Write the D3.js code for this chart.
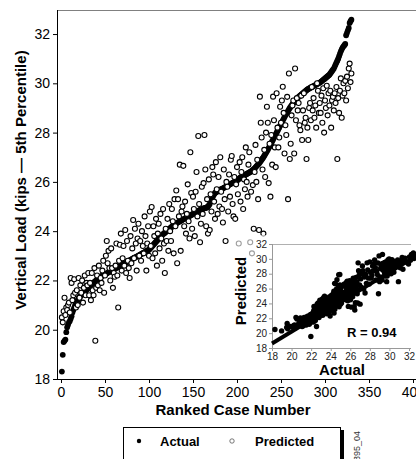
<!DOCTYPE html>
<html><head><meta charset="utf-8">
<script src="https://cdn.jsdelivr.net/npm/d3@7"></script>
<style>
html,body{margin:0;padding:0;background:#fff;}
svg{display:block;font-family:"Liberation Sans",Arial,sans-serif;}
</style></head>
<body><svg id="c" width="416" height="459"></svg>
<script>
// Actual vertical load, sorted by rank (kips)
const actual = [
18.30,18.98,19.50,19.55,19.60,19.90,20.10,20.20,20.30,20.35,
20.45,20.55,20.70,20.80,20.90,21.00,21.08,21.15,21.20,21.28,
21.32,21.36,21.40,21.45,21.50,21.53,21.56,21.59,21.62,21.65,
21.69,21.73,21.77,21.81,21.85,21.88,21.91,21.94,21.97,22.00,
22.03,22.06,22.09,22.12,22.15,22.17,22.19,22.21,22.23,22.25,
22.27,22.29,22.31,22.33,22.35,22.37,22.39,22.41,22.43,22.45,
22.47,22.49,22.51,22.53,22.55,22.57,22.59,22.61,22.63,22.65,
22.67,22.69,22.71,22.73,22.75,22.77,22.79,22.81,22.83,22.85,
22.87,22.89,22.91,22.93,22.95,22.97,22.99,23.01,23.03,23.05,
23.07,23.09,23.11,23.13,23.15,23.17,23.19,23.21,23.23,23.25,
23.29,23.33,23.37,23.41,23.45,23.49,23.53,23.57,23.61,23.65,
23.69,23.73,23.77,23.81,23.85,23.88,23.91,23.94,23.97,24.00,
24.03,24.06,24.09,24.12,24.15,24.18,24.21,24.24,24.27,24.30,
24.32,24.34,24.36,24.38,24.40,24.42,24.44,24.46,24.48,24.50,
24.52,24.54,24.56,24.58,24.60,24.62,24.64,24.66,24.68,24.70,
24.72,24.74,24.76,24.78,24.80,24.82,24.84,24.86,24.88,24.90,
24.91,24.92,24.93,24.94,24.95,24.97,25.00,25.05,25.10,25.20,
25.28,25.36,25.44,25.50,25.55,25.58,25.60,25.62,25.64,25.66,
25.68,25.70,25.72,25.74,25.76,25.78,25.80,25.82,25.84,25.86,
25.88,25.90,25.92,25.94,25.96,25.98,26.00,26.02,26.04,26.06,
26.09,26.12,26.15,26.18,26.20,26.22,26.24,26.26,26.28,26.30,
26.32,26.34,26.36,26.38,26.40,26.43,26.46,26.49,26.52,26.55,
26.59,26.63,26.67,26.71,26.75,26.80,26.85,26.90,26.95,27.00,
27.06,27.12,27.18,27.24,27.30,27.37,27.44,27.51,27.58,27.65,
27.72,27.79,27.86,27.93,28.00,28.07,28.14,28.21,28.28,28.35,
28.42,28.49,28.56,28.63,28.70,28.76,28.82,28.88,28.94,29.00,
29.05,29.10,29.15,29.20,29.25,29.29,29.33,29.37,29.41,29.45,
29.48,29.51,29.54,29.57,29.60,29.63,29.66,29.69,29.72,29.75,
29.77,29.79,29.81,29.83,29.85,29.87,29.89,29.91,29.93,29.95,
29.97,29.99,30.01,30.03,30.05,30.08,30.11,30.14,30.17,30.20,
30.23,30.26,30.29,30.32,30.35,30.40,30.45,30.50,30.55,30.60,
30.68,30.76,30.84,30.92,31.00,31.10,31.20,31.30,31.38,31.45,
31.50,31.55,31.60,31.95,32.05,32.15,32.25,32.45,32.52,32.58
];
// Predicted vertical load for the same ranked cases (kips)
const predicted = [
20.50,20.30,20.75,21.30,20.60,20.90,20.80,21.00,21.10,20.70,
22.10,21.90,21.20,21.40,22.05,21.50,20.90,21.60,21.00,22.10,
21.30,21.80,21.50,22.00,21.10,21.70,22.20,21.40,21.90,21.80,
22.30,21.40,21.90,21.20,22.30,21.60,21.40,22.50,19.55,21.70,
22.20,21.80,22.60,21.60,22.10,21.90,22.40,22.80,21.50,22.20,
23.00,23.60,22.70,23.20,22.50,22.00,23.30,22.50,21.70,22.30,
22.15,22.60,23.50,22.20,20.90,22.80,23.45,23.90,22.40,22.90,
23.40,22.60,24.05,22.30,23.60,22.80,22.50,22.10,23.80,22.70,
23.30,24.45,22.90,24.10,23.50,22.40,23.70,24.30,23.00,23.60,
22.80,24.00,23.40,23.10,24.60,23.80,22.40,23.50,24.20,23.00,
24.80,23.40,24.98,22.90,24.20,23.80,23.10,24.50,22.60,23.90,
24.30,23.30,24.70,23.70,22.80,24.90,23.50,22.30,24.10,23.60,
24.50,23.20,25.10,24.00,23.60,24.90,24.40,23.10,25.30,24.20,
25.65,22.70,25.30,24.60,26.70,23.20,24.80,25.00,26.65,24.20,
25.20,23.90,24.70,25.90,24.40,23.70,27.20,25.55,24.10,25.40,
24.90,23.80,25.60,26.40,24.60,27.86,25.10,23.55,24.30,25.80,
24.70,25.95,27.90,26.50,24.20,25.30,23.90,26.10,24.05,25.50,
24.80,26.60,26.30,25.20,24.50,26.80,25.70,24.70,26.20,25.00,
27.00,25.60,24.90,24.35,26.50,25.30,23.60,26.00,25.80,24.80,
26.30,25.40,26.90,27.05,25.10,24.60,26.20,24.50,25.90,26.60,
25.50,23.50,26.80,25.20,26.40,27.00,24.90,26.10,25.70,27.40,
26.00,25.40,26.70,27.20,23.55,25.60,23.10,25.87,24.10,26.40,
27.50,26.00,26.90,25.30,24.05,29.46,28.40,27.80,26.50,23.90,
27.30,26.20,28.00,29.05,28.40,25.95,27.55,25.40,27.90,26.70,
29.46,28.50,27.40,26.60,29.60,28.20,27.40,27.80,29.05,28.40,
29.30,29.86,28.80,27.15,28.30,27.90,29.45,25.30,30.40,26.93,
27.55,28.70,29.10,29.30,27.15,30.60,28.50,29.40,28.90,29.20,
28.30,28.10,29.50,27.70,28.90,29.60,28.40,28.60,26.93,28.20,
27.70,29.00,29.20,28.50,29.85,28.90,29.40,28.60,29.10,28.20,
30.00,29.70,28.80,29.20,28.80,29.50,28.40,29.80,28.00,29.30,
29.00,29.90,28.70,29.60,29.10,29.70,28.20,29.30,29.45,28.90,
29.60,29.20,29.85,26.93,29.40,28.80,29.70,30.20,28.60,29.50,
30.00,29.60,30.10,29.30,30.27,29.80,30.60,30.80,30.05,30.40
];
const xTicks = [0,50,100,150,200,250,300,350,400];
const yTicks = [18,20,22,24,26,28,30,32];
const insetTicks = [18,20,22,24,26,28,30,32];
const insetFit = [[18,18.6],[32,29.8]];
const legendItems = ["Actual","Predicted"];

const svg = d3.select("#c");
const ranks = actual.map((d,i)=>i+1);

// main scales
const x = d3.scaleLinear().domain([0,400]).range([61,413]);
const y = d3.scaleLinear().domain([18,33]).range([379,9.4]);
const L = 57, T = 10, B = 379;

svg.append("line").attr("x1",L).attr("x2",416).attr("y1",T+0.5).attr("y2",T+0.5)
  .attr("stroke","#808080").attr("stroke-width",1);

const gMain = svg.append("g");
gMain.selectAll("circle.act").data(actual).join("circle")
  .attr("cx",(d,i)=>x(ranks[i])).attr("cy",d=>y(d)).attr("r",2.9).attr("fill","#000");
gMain.selectAll("circle.pred").data(predicted).join("circle")
  .attr("cx",(d,i)=>x(ranks[i])).attr("cy",d=>y(d)).attr("r",2.5)
  .attr("fill","#fff").attr("stroke","#000").attr("stroke-width",1.1);

const yAxis = d3.axisLeft(y).tickValues(yTicks).tickSize(4).tickPadding(3).tickSizeOuter(0);
const gy = svg.append("g").attr("transform",`translate(${L},0)`).call(yAxis);
gy.select(".domain").remove();
gy.selectAll("text").attr("font-size",14).attr("fill","#000");
svg.append("line").attr("x1",L+0.5).attr("x2",L+0.5).attr("y1",T).attr("y2",B+0.5).attr("stroke","#000");

const xAxis = d3.axisBottom(x).tickValues(xTicks).tickSize(4).tickPadding(4).tickSizeOuter(0);
const gx = svg.append("g").attr("transform",`translate(0,${B})`).call(xAxis);
gx.select(".domain").remove();
gx.selectAll("text").attr("font-size",14).attr("fill","#000");
svg.append("line").attr("x1",L).attr("x2",416).attr("y1",B+0.5).attr("y2",B+0.5).attr("stroke","#000");

svg.append("text").attr("x",233).attr("y",415).attr("text-anchor","middle")
  .attr("font-size",15).attr("font-weight","bold").text("Ranked Case Number");
svg.append("text").attr("transform","translate(26,180) rotate(-90)").attr("text-anchor","middle")
  .attr("font-size",15).attr("font-weight","bold").text("Vertical Load (kips \u2014 5th Percentile)");

// inset
svg.append("rect").attr("x",232).attr("y",235).attr("width",184).attr("height",143)
  .attr("fill","#fff").attr("fill-opacity",0.62);
const ix = d3.scaleLinear().domain([18,32]).range([272,409]);
const iy = d3.scaleLinear().domain([18,32]).range([348,244]);
const gi = svg.append("g");
gi.append("line").attr("x1",ix(18)).attr("x2",411).attr("y1",iy(32)+0.5).attr("y2",iy(32)+0.5).attr("stroke","#b0b0b0");
gi.append("line").attr("x1",ix(18)+0.5).attr("x2",ix(18)+0.5).attr("y1",iy(32)).attr("y2",iy(18)).attr("stroke","#999");
gi.append("line").attr("x1",ix(18)).attr("x2",411).attr("y1",iy(18)+0.5).attr("y2",iy(18)+0.5).attr("stroke","#999");
const iyAxis = d3.axisLeft(iy).tickValues(insetTicks).tickSize(3).tickPadding(2).tickSizeOuter(0);
const giy = gi.append("g").attr("transform",`translate(${ix(18)},0)`).call(iyAxis);
giy.select(".domain").remove();
giy.selectAll("line").attr("stroke","#999");
giy.selectAll("text").attr("font-size",10).attr("fill","#222");
const ixAxis = d3.axisBottom(ix).tickValues(insetTicks).tickSize(3).tickPadding(2).tickSizeOuter(0);
const gix = gi.append("g").attr("transform",`translate(0,${iy(18)})`).call(ixAxis);
gix.select(".domain").remove();
gix.selectAll("line").attr("stroke","#999");
gix.selectAll("text").attr("font-size",10).attr("fill","#222");

gi.append("line").attr("x1",ix(insetFit[0][0])).attr("y1",iy(insetFit[0][1]))
  .attr("x2",ix(insetFit[1][0])).attr("y2",iy(insetFit[1][1]))
  .attr("stroke","#000").attr("stroke-width",4);
gi.selectAll("circle.ins").data(actual).join("circle")
  .attr("cx",d=>ix(d)).attr("cy",(d,i)=>iy(predicted[i])).attr("r",2.7).attr("fill","#000");

gi.append("text").attr("x",347).attr("y",337).attr("font-size",13).attr("font-weight","bold").text("R = 0.94");
gi.append("text").attr("x",342).attr("y",375).attr("text-anchor","middle")
  .attr("font-size",15).attr("font-weight","bold").text("Actual");
gi.append("text").attr("transform","translate(246,291) rotate(-90)").attr("text-anchor","middle")
  .attr("font-size",15).attr("font-weight","bold").text("Predicted");

// legend
const lg = svg.append("g");
lg.append("rect").attr("x",123.5).attr("y",427.5).attr("width",217).attr("height",60)
  .attr("fill","#fff").attr("stroke","#000").attr("stroke-width",1);
lg.append("rect").attr("x",340).attr("y",430).attr("width",4).attr("height",40).attr("fill","#000");
lg.append("circle").attr("cx",139).attr("cy",441).attr("r",2.2).attr("fill","#000");
lg.append("text").attr("x",160).attr("y",446).attr("font-size",13).attr("font-weight","bold").text(legendItems[0]);
lg.append("circle").attr("cx",232).attr("cy",441).attr("r",2.2).attr("fill","#fff").attr("stroke","#555").attr("stroke-width",0.8);
lg.append("text").attr("x",255).attr("y",446).attr("font-size",13).attr("font-weight","bold").text(legendItems[1]);

svg.append("text").attr("transform","translate(360,431) rotate(-90)").attr("text-anchor","end")
  .attr("font-size",9).attr("fill","#333").text("395_04");
</script></body></html>
